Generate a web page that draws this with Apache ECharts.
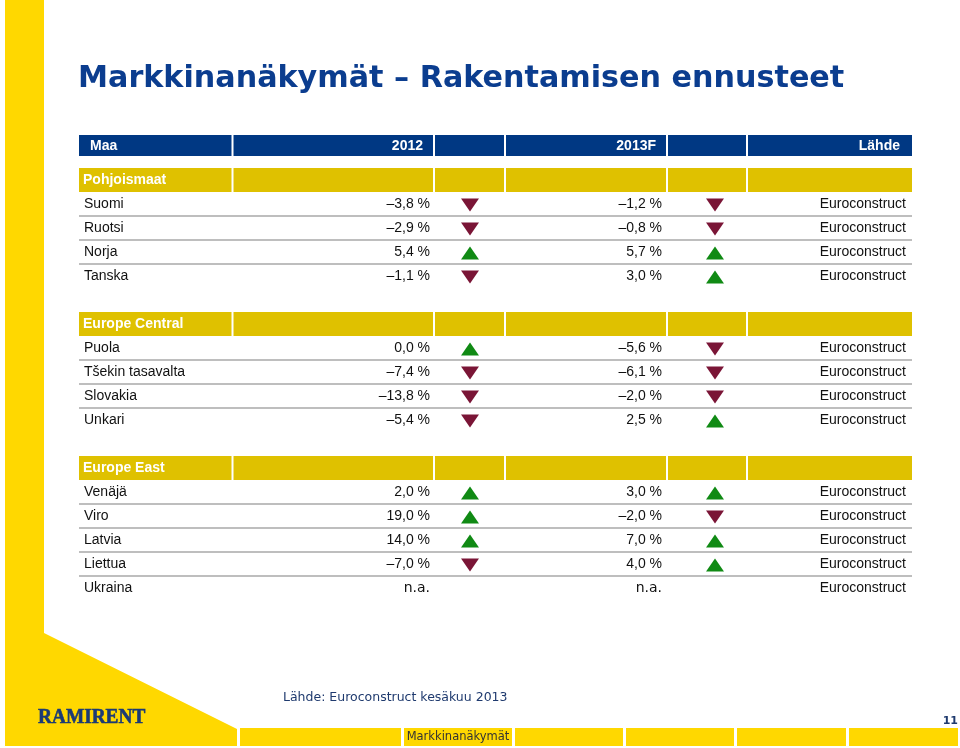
<!DOCTYPE html>
<html><head><meta charset="utf-8">
<script src="https://cdn.jsdelivr.net/npm/echarts@6/dist/echarts.min.js"></script>
<style>html,body{margin:0;padding:0;background:#fff}#c{width:960px;height:748px}</style>
</head><body><div id="c"></div>
<script>
// ---- data ----
const groups = ['Pohjoismaat', 'Europe Central', 'Europe East'];
const countries = ['Suomi', 'Ruotsi', 'Norja', 'Tanska', 'Puola', 'Tšekin tasavalta', 'Slovakia', 'Unkari', 'Venäjä', 'Viro', 'Latvia', 'Liettua', 'Ukraina'];
const countryGroup = [0, 0, 0, 0, 1, 1, 1, 1, 2, 2, 2, 2, 2];
const growth2012 = [-3.8, -2.9, 5.4, -1.1, 0.0, -7.4, -13.8, -5.4, 2.0, 19.0, 14.0, -7.0, null];
const growth2013F = [-1.2, -0.8, 5.7, 3.0, -5.6, -6.1, -2.0, 2.5, 3.0, -2.0, 7.0, 4.0, null];
const sources = ['Euroconstruct', 'Euroconstruct', 'Euroconstruct', 'Euroconstruct', 'Euroconstruct', 'Euroconstruct', 'Euroconstruct', 'Euroconstruct', 'Euroconstruct', 'Euroconstruct', 'Euroconstruct', 'Euroconstruct', 'Euroconstruct'];
const headers = ['Maa', '2012', '', '2013F', '', 'Lähde'];
const titleText = 'Markkinanäkymät – Rakentamisen ennusteet';
const footnote = 'Lähde: Euroconstruct kesäkuu 2013';
const footerLabel = 'Markkinanäkymät';
const pageNo = '11';

// ---- layout (pixels within grid / row units) ----
const COL = [0, 153.5, 355, 426, 588, 668, 833];
const ARROW_X = [391, 636];
const SANS = '"Liberation Sans", Arial, sans-serif';
const VERD = '"DejaVu Sans", Verdana, sans-serif';
const BLUE = '#003883', GOLD = '#dfc100', YEL = '#ffd800';
const UP = '#108a14', DOWN = '#7a1536';

const rows = [{kind: 'header', top: -1.375, h: 0.875}];
let pos = 0;
groups.forEach((g, gi) => {
  if (gi > 0) pos += 1;
  rows.push({kind: 'section', top: pos, h: 1, g: gi}); pos += 1;
  countries.forEach((c, ci) => {
    if (countryGroup[ci] === gi) { rows.push({kind: 'row', top: pos, h: 1, i: ci, last: false}); pos += 1; }
  });
  rows[rows.length - 1].last = true;
});

function fmt(v) {
  if (v === null) return 'n.a.';
  return (v < 0 ? '\u2013' : '') + Math.abs(v).toFixed(1).replace('.', ',') + ' %';
}

function renderRow(params, api) {
  const r = rows[params.dataIndex];
  const y0 = api.coord([0, r.top])[1], y1 = api.coord([0, r.top + r.h])[1];
  const ym = (y0 + y1) / 2 + (r.kind === 'header' ? 0.5 : 0);
  const X = v => api.coord([v, 0])[0];
  const ch = [];
  const txt = (t, x, align, font, weight, color, size) => ch.push({
    type: 'text', style: {text: t, x: x, y: ym, align: align, verticalAlign: 'middle',
      fontFamily: font, fontWeight: weight, fontSize: size || 14, fill: color}
  });
  if (r.kind === 'header' || r.kind === 'section') {
    const fill = r.kind === 'header' ? BLUE : GOLD;
    for (let k = 0; k < 6; k++) {
      const xa = X(COL[k]) + (k > 0 ? 1 : 0), xb = X(COL[k + 1]) - (k < 5 ? 1 : 0);
      ch.push({type: 'rect', shape: {x: xa, y: y0, width: xb - xa, height: y1 - y0}, style: {fill: fill}});
    }
    if (r.kind === 'header') {
      txt(headers[0], X(11), 'left', SANS, 'bold', '#fff');
      txt(headers[1], X(344), 'right', SANS, 'bold', '#fff');
      txt(headers[3], X(577), 'right', SANS, 'bold', '#fff');
      txt(headers[5], X(821), 'right', SANS, 'bold', '#fff');
    } else {
      txt(groups[r.g], X(4), 'left', SANS, 'bold', '#fff');
    }
  } else {
    const i = r.i;
    txt(countries[i], X(5), 'left', SANS, 'normal', '#111');
    const a = growth2012[i], b = growth2013F[i];
    txt(fmt(a), X(351), 'right', a === null ? VERD : SANS, 'normal', '#111');
    txt(fmt(b), X(583), 'right', b === null ? VERD : SANS, 'normal', '#111');
    txt(sources[i], X(827), 'right', SANS, 'normal', '#111');
    if (!r.last) {
      ch.push({type: 'line', shape: {x1: X(0), y1: y1, x2: X(833), y2: y1}, style: {stroke: '#a9a9a9', lineWidth: 1.6}});
    }
  }
  return {type: 'group', children: ch};
}

function arrowData(values, colX) {
  const out = [];
  rows.forEach(r => {
    if (r.kind !== 'row') return;
    const v = values[r.i];
    if (v === null) return;
    out.push({value: [colX, r.top + 0.5], symbolRotate: v < 0 ? 180 : 0, itemStyle: {color: v < 0 ? DOWN : UP, opacity: 1}});
  });
  return out;
}

const chart = echarts.init(document.getElementById('c'), null, {renderer: 'canvas'});
chart.setOption({
  animation: false,
  backgroundColor: '#fff',
  grid: {left: 79, top: 135, width: 833, height: 465},
  xAxis: {type: 'value', min: 0, max: 833, show: false},
  yAxis: {type: 'value', min: -1.375, max: 18, inverse: true, show: false},
  series: [
    {type: 'custom', renderItem: renderRow, clip: false, data: rows.map(r => [0, r.top]), z: 2},
    {type: 'scatter', symbol: 'triangle', symbolSize: [18, 13], symbolOffset: [0, 1], itemStyle: {opacity: 1}, data: arrowData(growth2012, ARROW_X[0]), z: 3},
    {type: 'scatter', symbol: 'triangle', symbolSize: [18, 13], symbolOffset: [0, 1], itemStyle: {opacity: 1}, data: arrowData(growth2013F, ARROW_X[1]), z: 3}
  ],
  graphic: [
    {type: 'polygon', shape: {points: [[5, 0], [44, 0], [44, 633], [237, 729], [237, 746], [5, 746]]}, style: {fill: YEL}, z: 0},
    ...[[240, 401], [404, 512], [515, 623], [626, 734], [737, 846], [849, 958]].map(s => ({
      type: 'rect', shape: {x: s[0], y: 728, width: s[1] - s[0], height: 18}, style: {fill: YEL}, z: 0
    })),
    {type: 'text', x: 78, y: 79, style: {text: titleText, fontFamily: VERD, fontWeight: 'bold', fontSize: 30.2, fill: '#0b3d8f', verticalAlign: 'middle'}},
    {type: 'text', x: 38, y: 718, scaleX: 0.92, style: {text: 'RAMIRENT', fontFamily: '"Liberation Serif", serif', fontWeight: 'bold', fontSize: 21, fill: '#1b3a75', verticalAlign: 'middle', stroke: '#1b3a75', lineWidth: 0.6}},
    {type: 'text', x: 283, y: 698, style: {text: footnote, fontFamily: VERD, fontSize: 12.5, fill: '#1f3a6e', verticalAlign: 'middle'}},
    {type: 'text', x: 458, y: 737, style: {text: footerLabel, fontFamily: VERD, fontSize: 11.5, fill: '#333', align: 'center', verticalAlign: 'middle'}},
    {type: 'text', x: 958, y: 721, style: {text: pageNo, fontFamily: VERD, fontSize: 11, fontWeight: 'bold', fill: '#1f3a6e', align: 'right', verticalAlign: 'middle'}}
  ]
});
</script></body></html>
